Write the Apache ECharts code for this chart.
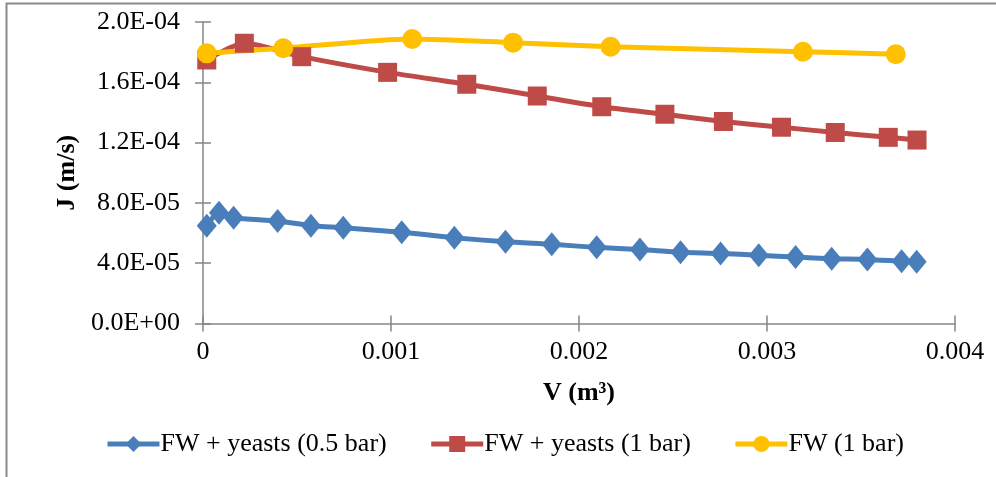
<!DOCTYPE html>
<html>
<head>
<meta charset="utf-8">
<script src="https://cdn.jsdelivr.net/npm/echarts@6/dist/echarts.min.js"></script>
<style>html,body{margin:0;padding:0;background:#fff}#c{width:996px;height:477px}</style>
</head>
<body>
<div id="c"></div>
<script>
var seriesNames = ['FW + yeasts (0.5 bar)', 'FW + yeasts (1 bar)', 'FW (1 bar)'];
var blueV = [0.00002,0.000085,0.000163,0.000397,0.000574,0.000746,0.001057,0.001337,0.001609,0.001855,0.002094,0.002324,0.00254,0.002753,0.002956,0.003152,0.003344,0.003534,0.003716,0.003796];
var blueJ = [6.49e-5,7.35e-5,7.02e-5,6.80e-5,6.49e-5,6.35e-5,6.05e-5,5.69e-5,5.42e-5,5.25e-5,5.05e-5,4.91e-5,4.73e-5,4.65e-5,4.52e-5,4.41e-5,4.30e-5,4.25e-5,4.13e-5,4.09e-5];
var redV = [0.00002,0.00022,0.000525,0.000982,0.001403,0.001778,0.002121,0.002457,0.002768,0.003077,0.003363,0.003645,0.003798];
var redJ = [1.748e-4,1.859e-4,1.770e-4,1.666e-4,1.587e-4,1.509e-4,1.438e-4,1.388e-4,1.340e-4,1.302e-4,1.267e-4,1.235e-4,1.217e-4];
var yelV = [0.00002,0.000427,0.001113,0.001649,0.002168,0.003191,0.003685];
var yelJ = [1.792e-4,1.826e-4,1.887e-4,1.863e-4,1.836e-4,1.803e-4,1.786e-4];
var xTickLabels = ['0','0.001','0.002','0.003','0.004'];
var yTickLabels = ['0.0E+00','4.0E-05','8.0E-05','1.2E-04','1.6E-04','2.0E-04'];

function pairs(xs, ys){ return xs.map(function(x,i){return [x, ys[i]];}); }
var FONT = 'Liberation Serif';
var axisColor = '#868686';
var chart = echarts.init(document.getElementById('c'));
function mkSeries(name, xs, ys, color, symbol, size){
  return {
    name: name, type: 'line', data: pairs(xs, ys), smooth: 0.25,
    symbol: symbol, symbolSize: size, showSymbol: true,
    lineStyle: {color: color, width: 5},
    itemStyle: {color: color},
    emphasis: {disabled: true}, animation: false
  };
}
chart.setOption({
  animation: false,
  textStyle: {fontFamily: FONT},
  grid: {left: 203, right: 41, top: 22, bottom: 153.5},
  graphic: [{type: 'rect', shape: {x: 6.5, y: 3.5, width: 1100, height: 600}, style: {fill: 'none', stroke: '#8a8a8a', lineWidth: 2}, silent: true}],
  legend: {
    data: seriesNames, top: 426, left: 100, itemWidth: 52, itemHeight: 20, itemGap: 42,
    lineStyle: {width: 5},
    textStyle: {fontFamily: FONT, fontSize: 26, color: '#000', padding: [0,0,0,-4]}
  },
  xAxis: [{
    type: 'value', min: 0, max: 0.004, interval: 0.001, position: 'bottom',
    axisLine: {show: true, onZero: false, lineStyle: {color: axisColor, width: 1.5}},
    axisTick: {show: true, length: 8, lineStyle: {color: axisColor, width: 1.5}},
    axisLabel: {fontFamily: FONT, fontSize: 26, color: '#000', margin: 16,
      formatter: function(v){ return xTickLabels[Math.round(v/0.001)]; }},
    splitLine: {show: false},
    name: 'V (m³)', nameLocation: 'middle', nameGap: 57,
    nameTextStyle: {fontFamily: FONT, fontSize: 26, fontWeight: 'bold', color: '#000'}
  },{
    type: 'value', min: 0, max: 0.004, interval: 0.001, position: 'bottom',
    axisLine: {show: false}, axisLabel: {show: false}, splitLine: {show: false},
    axisTick: {show: true, inside: true, length: 8, lineStyle: {color: axisColor, width: 1.5}}
  }],
  yAxis: [{
    type: 'value', min: 0, max: 0.0002, interval: 0.00004, position: 'left',
    axisLine: {show: true, onZero: false, lineStyle: {color: axisColor, width: 1.5}},
    axisTick: {show: true, length: 8, lineStyle: {color: axisColor, width: 1.5}},
    axisLabel: {fontFamily: FONT, fontSize: 26, color: '#000', margin: 23,
      formatter: function(v){ return yTickLabels[Math.round(v/0.00004)]; }},
    splitLine: {show: false},
    name: 'J (m/s)', nameLocation: 'middle', nameGap: 122, nameRotate: 90,
    nameTextStyle: {fontFamily: FONT, fontSize: 26, fontWeight: 'bold', color: '#000'}
  },{
    type: 'value', min: 0, max: 0.0002, interval: 0.00004, position: 'left',
    axisLine: {show: false}, axisLabel: {show: false}, splitLine: {show: false},
    axisTick: {show: true, inside: true, length: 8, lineStyle: {color: axisColor, width: 1.5}}
  }],
  series: [
    mkSeries(seriesNames[0], blueV, blueJ, '#4A7EBB', 'diamond', [20, 24]),
    mkSeries(seriesNames[1], redV, redJ, '#BE4B48', 'rect', 19),
    mkSeries(seriesNames[2], yelV, yelJ, '#FFC000', 'circle', 20)
  ]
});
</script>
</body>
</html>
